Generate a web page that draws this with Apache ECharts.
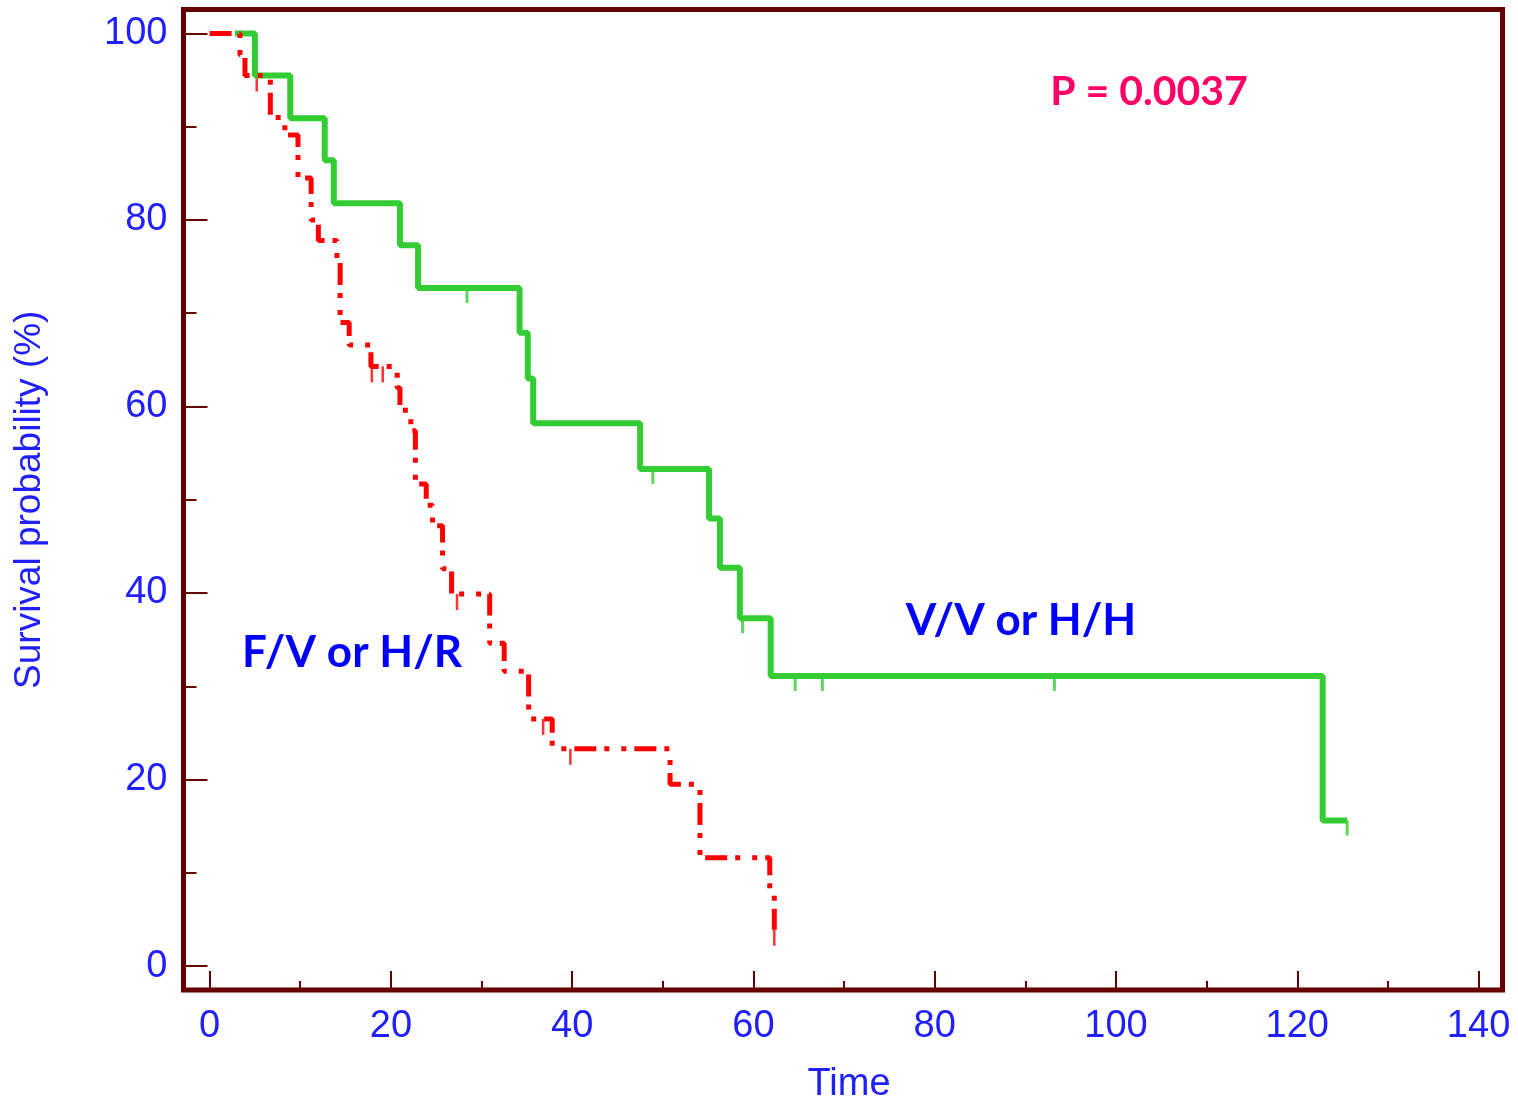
<!DOCTYPE html>
<html>
<head>
<meta charset="utf-8">
<script src="https://cdn.jsdelivr.net/npm/echarts@6/dist/echarts.min.js"></script>
<style>
  html, body { margin: 0; padding: 0; background: #fff; }
  #km-chart { width: 1518px; height: 1109px; }
</style>
</head>
<body>
<div id="km-chart"></div>
<script>
// V/V or H/H (green, solid)
var greenTime   = [2.8, 5.0, 8.9, 12.7, 13.7, 21.0, 23.0, 34.2, 35.1, 35.7, 47.5, 55.1, 56.3, 58.5, 61.9, 122.8, 125.5];
var greenSurv   = [100, 95.5, 90.9, 86.4, 81.8, 77.3, 72.7, 67.9, 63.0, 58.2, 53.3, 48.0, 42.7, 37.3, 31.1, 15.6, 15.6];
var greenCensor = [28.4, 48.9, 58.8, 64.6, 67.6, 93.2, 125.5];

// F/V or H/R (red, dash-dot)
var redTime   = [0, 3.35, 3.9, 6.7, 8.3, 9.75, 11.2, 12.0, 14.05, 14.4, 15.4, 17.8, 20.7, 21.0, 22.2, 22.7, 23.9, 24.6, 25.7, 26.7, 30.9, 32.5, 35.2, 37.8, 50.8, 54.1, 61.8, 62.3];
var redSurv   = [100, 97.7, 95.5, 91.0, 89.1, 84.5, 80.0, 77.8, 75.7, 69.0, 66.6, 64.3, 62.0, 59.6, 57.4, 51.7, 49.4, 47.2, 42.6, 39.9, 34.6, 31.6, 26.5, 23.3, 19.5, 11.6, 7.7, 3.9];
var redCensor = [5.2, 17.9, 19.1, 27.3, 36.8, 39.8, 62.3];

var xMajorTicks = [0, 20, 40, 60, 80, 100, 120, 140];
var xMinorTicks = [10, 30, 50, 70, 90, 110, 130];
var yMajorTicks = [0, 20, 40, 60, 80, 100];
var yMinorTicks = [10, 30, 50, 70, 90];

var frameColor = '#650000';
var labelBlue = '#2020ff';

function stepData(times, surv) {
  return times.map(function (t, i) { return [t, surv[i]]; });
}
function survAt(times, surv, t) {
  var s = surv[0];
  for (var i = 0; i < times.length; i++) {
    if (times[i] <= t) s = surv[i];
  }
  return s;
}
function censorData(censor, times, surv) {
  return censor.map(function (t) { return [t, survAt(times, surv, t)]; });
}

function tickAxis(isX, ticks, len, withLabel) {
  var ax = {
    type: 'value',
    min: isX ? -2.88 : -2.57,
    max: isX ? 142.64 : 102.57,
    position: isX ? 'bottom' : 'left',
    axisLine: { show: false, onZero: false },
    splitLine: { show: false },
    axisTick: {
      show: true, inside: true, length: len, customValues: ticks,
      lineStyle: { color: frameColor, width: 2 }
    },
    axisLabel: { show: false }
  };
  if (withLabel) {
    ax.axisLabel = {
      show: true, customValues: ticks, color: labelBlue,
      fontSize: 38, fontFamily: 'Liberation Sans', margin: isX ? 18 : 16
    };
  }
  return ax;
}

var xMain = tickAxis(true, xMajorTicks, 19, true);
xMain.name = 'Time';
xMain.nameLocation = 'middle';
xMain.nameGap = 76;
xMain.nameTextStyle = { color: labelBlue, fontSize: 38, fontFamily: 'Liberation Sans', padding: [0, 0, 0, 12] };

var yMain = tickAxis(false, yMajorTicks, 24, true);
yMain.name = 'Survival probability (%)';
yMain.nameLocation = 'middle';
yMain.nameGap = 135;
yMain.nameTextStyle = { color: labelBlue, fontSize: 37, fontFamily: 'Liberation Sans' };

var kmChart = echarts.init(document.getElementById('km-chart'));
kmChart.setOption({
  animation: false,
  backgroundColor: '#ffffff',
  grid: {
    left: 183.5, right: 15.5, top: 9.5, bottom: 117.5,
    show: true, borderColor: frameColor, borderWidth: 5, backgroundColor: '#ffffff'
  },
  xAxis: [xMain, tickAxis(true, xMinorTicks, 9, false)],
  yAxis: [yMain, tickAxis(false, yMinorTicks, 13, false)],
  series: [
    {
      name: 'V/V or H/H', type: 'line', step: 'end', showSymbol: false,
      data: stepData(greenTime, greenSurv),
      lineStyle: { color: '#33cc33', width: 6 }
    },
    {
      name: 'V/V or H/H censored', type: 'scatter',
      data: censorData(greenCensor, greenTime, greenSurv),
      symbol: 'rect', symbolSize: [3, 15], symbolOffset: [0, 7.5],
      itemStyle: { color: '#33cc33' }
    },
    {
      name: 'F/V or H/R', type: 'line', step: 'end', showSymbol: false,
      data: stepData(redTime, redSurv),
      lineStyle: { color: '#ff0000', width: 5, type: [22, 8, 5, 12, 5, 8] }
    },
    {
      name: 'F/V or H/R censored', type: 'scatter',
      data: censorData(redCensor, redTime, redSurv),
      symbol: 'rect', symbolSize: [2.5, 16], symbolOffset: [0, 8],
      itemStyle: { color: '#ff0000' }
    }
  ],
  graphic: [
    { type: 'text', x: 1149, y: 92,
      style: { text: 'P = 0.0037', fill: '#ff0066', font: 'bold 41px Lato', align: 'center', verticalAlign: 'middle' } },
    { type: 'text', x: 352, y: 653,
      style: { text: 'F/V or H/R', fill: '#0000ff', font: 'bold 44px Lato', align: 'center', verticalAlign: 'middle' } },
    { type: 'text', x: 1021, y: 621,
      style: { text: 'V/V or H/H', fill: '#0000ff', font: 'bold 44px Lato', align: 'center', verticalAlign: 'middle' } }
  ]
});
</script>
</body>
</html>
